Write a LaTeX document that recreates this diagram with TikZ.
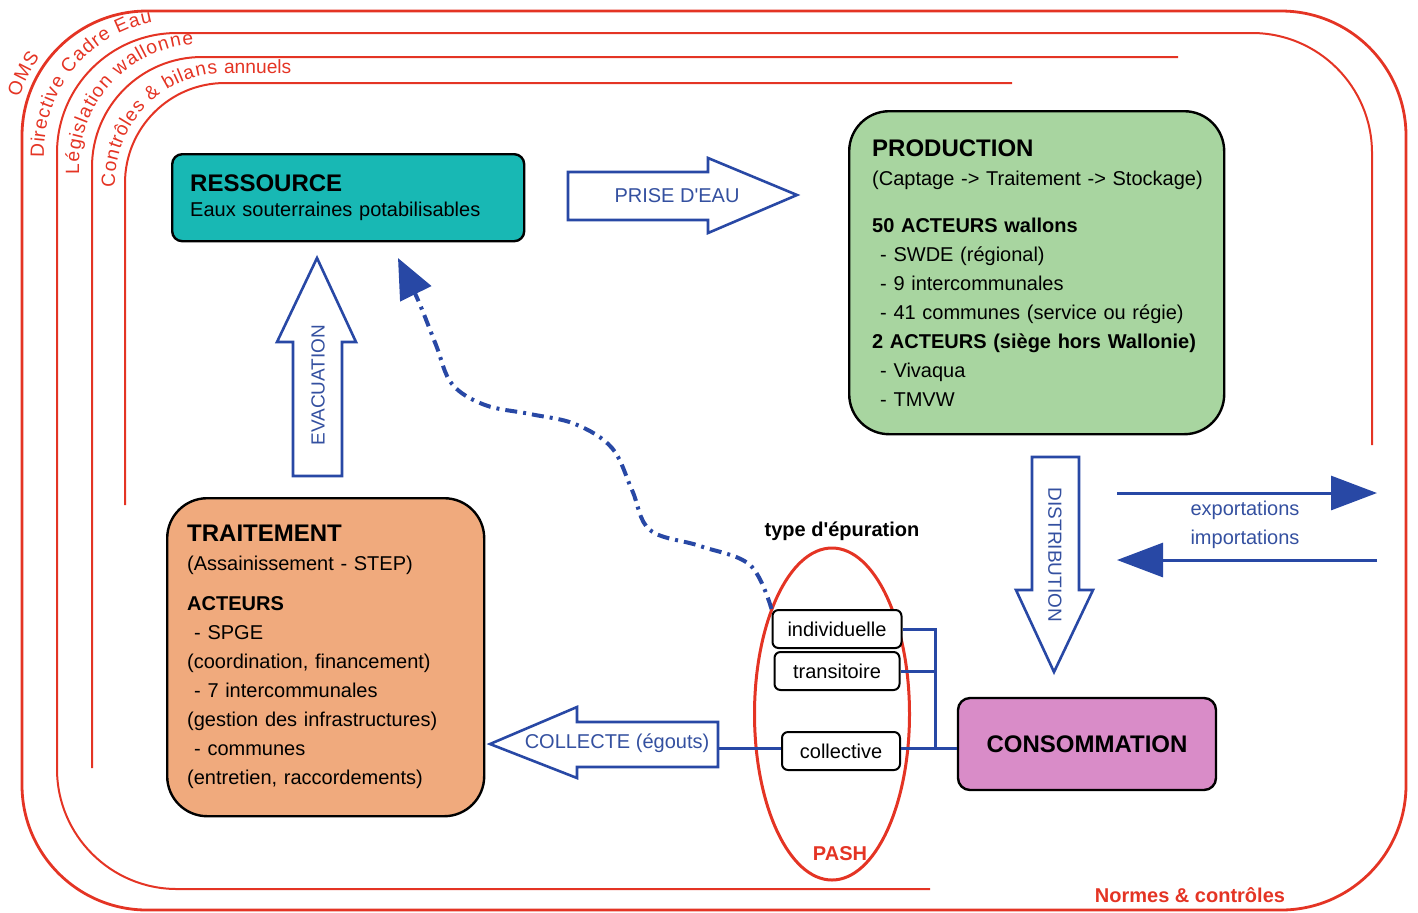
\documentclass[tikz,border=0pt]{standalone}
\usepackage{fontspec}
\setmainfont{Liberation Sans}[Ligatures=TeXOff]
\usetikzlibrary{arrows.meta,shapes.geometric,decorations.text}

\definecolor{framered}{RGB}{228,52,36}
\definecolor{flowblue}{RGB}{40,72,165}
\definecolor{labelblue}{RGB}{52,80,160}
\definecolor{ressfill}{RGB}{24,184,180}
\definecolor{prodfill}{RGB}{168,213,160}
\definecolor{traitfill}{RGB}{240,170,125}
\definecolor{consfill}{RGB}{217,140,200}

\newcommand\headfont{\fontsize{12pt}{14.5pt}\selectfont\bfseries}
\newcommand\arcfont{\fontsize{9.6pt}{12pt}\selectfont}

\begin{document}
\begin{tikzpicture}[x=0.5pt,y=-0.5pt]
	\tikzstyle{frame}=[framered,line width=1pt]
	\tikzstyle{curvetext}=[decorate,decoration={text along path,raise=5.5pt,text color=framered}]
	\tikzstyle{actor}=[draw=black,line width=1.2pt,anchor=north west,align=left]
	\tikzstyle{epbox}=[draw=black,fill=white,rounded corners=3pt,line width=1pt,minimum height=19pt,font=\fontsize{10pt}{12pt}\selectfont]
	\tikzstyle{blockarrow}=[draw=flowblue,fill=white,line width=1.3pt,line join=miter]
	\tikzstyle{arrowlabel}=[labelblue,font=\fontsize{10pt}{14.5pt}\selectfont]
	\tikzstyle{pipe}=[flowblue,line width=1.5pt]
	\tikzstyle{trade}=[flowblue,line width=1.5pt,-{Triangle[length=23pt,width=17pt]}]
	\useasboundingbox (0,0) rectangle (1418,912);

	% cadres reglementaires
	\draw[frame,line width=1.4pt,rounded corners=62.5pt] (22,11) rectangle (1406,910);
	\draw[frame,rounded corners=60pt] (930,889) -- (57,889) -- (57,33) -- (1372,33) -- (1372,445);
	\draw[frame,rounded corners=55pt] (92,768) -- (92,57) -- (1178,57);
	\draw[frame,rounded corners=50pt] (125,505) -- (125,83) -- (1012,83);

	\path[curvetext,rounded corners=62.5pt,decoration={raise=4pt,text={|\arcfont|OMS},text align={left indent=150pt}}] (22,400) -- (22,11) -- (1406,11);
	\path[curvetext,rounded corners=60pt,decoration={raise=6.5pt,text={|\arcfont|Directive Cadre Eau},text align={left indent=121pt}}] (57,400) -- (57,33) -- (1372,33);
	\path[curvetext,rounded corners=55pt,decoration={raise=6.5pt,text={|\arcfont|Législation wallonne},text align={left indent=113pt}}] (92,400) -- (92,57) -- (1178,57);
	\path[curvetext,rounded corners=50pt,decoration={raise=5pt,text={|\arcfont|Contrôles {\&} bilans annuels},text align={left indent=106pt}}] (125,400) -- (125,83) -- (1012,83);

	\node[framered,font=\fontsize{10pt}{12pt}\selectfont\bfseries] (normes) at (1190,895) {Normes \& contrôles};

	% acteurs
	\node[actor,fill=ressfill,rounded corners=5pt,inner xsep=9pt,text width=158pt,minimum width=176pt,minimum height=43.5pt,font=\fontsize{10pt}{12.5pt}\selectfont] (ress) at (171,153) {{\headfont RESSOURCE}\\
		Eaux souterraines potabilisables};

	\node[actor,fill=prodfill,rounded corners=20pt,inner xsep=11.5pt,text width=164.5pt,minimum width=187.5pt,minimum height=161.5pt,font=\fontsize{10pt}{14.5pt}\selectfont] (prod) at (848,110) {{\headfont PRODUCTION}\\
		\mbox{(Captage -> Traitement -> Stockage)}\\[9pt]
		{\bfseries 50 ACTEURS wallons}\\
		\hspace*{4pt}- SWDE (régional)\\
		\hspace*{4pt}- 9 intercommunales\\
		\hspace*{4pt}- 41 communes (service ou régie)\\
		\mbox{\bfseries 2 ACTEURS (siège hors Wallonie)}\\
		\hspace*{4pt}- Vivaqua\\
		\hspace*{4pt}- TMVW};

	\node[actor,fill=traitfill,rounded corners=20pt,inner xsep=10pt,text width=138.5pt,minimum width=158.5pt,minimum height=159pt,font=\fontsize{10pt}{14.5pt}\selectfont] (trait) at (166,497) {{\headfont TRAITEMENT}\\
		(Assainissement - STEP)\\[5.5pt]
		{\bfseries ACTEURS}\\
		\hspace*{3.5pt}- SPGE\\
		(coordination, financement)\\
		\hspace*{3.5pt}- 7 intercommunales\\
		(gestion des infrastructures)\\
		\hspace*{3.5pt}- communes\\
		(entretien, raccordements)};

	\node[draw=black,fill=consfill,rounded corners=6pt,line width=1.2pt,minimum width=129pt,minimum height=46pt,font=\headfont] (cons) at (1087,744) {CONSOMMATION};

	% flux
	\draw[blockarrow] (568,172) -- (708,172) -- (708,158) -- (797,195) -- (708,233) -- (708,220) -- (568,220) -- cycle;
	\node[arrowlabel] (prise) at (677,196) {PRISE D'EAU};
	\draw[blockarrow] (293,476) -- (293,342) -- (277,342) -- (317,258) -- (356,342) -- (342,342) -- (342,476) -- cycle;
	\node[arrowlabel,rotate=90,font=\fontsize{9.5pt}{12pt}\selectfont] (evac) at (318,385) {EVACUATION};
	\draw[blockarrow] (1032,457) -- (1079,457) -- (1079,590) -- (1093,590) -- (1054,672) -- (1016,590) -- (1032,590) -- cycle;
	\node[arrowlabel,rotate=-90,font=\fontsize{9.5pt}{12pt}\selectfont] (distr) at (1055,555) {DISTRIBUTION};
	\draw[blockarrow] (718,722) -- (577,722) -- (577,707) -- (490,744) -- (577,778) -- (577,767) -- (718,767) -- cycle;
	\node[arrowlabel] (collecte) at (617,743) {COLLECTE (égouts)};

	\coordinate (expL) at (1117,493);
	\coordinate (expR) at (1377,493);
	\coordinate (impR) at (1377,560);
	\coordinate (impL) at (1117,560);
	\draw[trade] (expL) -- (expR);
	\draw[trade] (impR) -- (impL);
	\node[arrowlabel,align=center] (echanges) at (1245,525) {exportations\\importations};

	% epuration
	\node[draw=framered,line width=1.5pt,ellipse,minimum width=77.5pt,minimum height=166pt] (pash) at (832,714) {};
	\node[framered,font=\fontsize{10pt}{12pt}\selectfont\bfseries] (pashlbl) at (840,854) {PASH};
	\node[font=\fontsize{10pt}{12pt}\selectfont\bfseries] (typep) at (842,531) {type d'épuration};
	\node[epbox,minimum width=64.5pt] (indiv) at (837,629) {individuelle};
	\node[epbox,minimum width=62.5pt] (trans) at (837,671) {transitoire};
	\node[epbox,minimum width=59pt] (coll) at (841,751) {collective};

	\coordinate (jn) at (935,748);
	\coordinate (colend) at (718,748);
	\draw[pipe] (indiv.east) -| (jn);
	\draw[pipe] (trans.east) -- (trans.east -| jn);
	\draw[pipe] (coll.east |- jn) -- (cons.west |- jn);
	\draw[pipe] (colend) -- (coll.west |- colend);

	\coordinate (retour) at (398,258);
	\draw[flowblue,line width=2pt,dash pattern=on 6pt off 3pt on 1.5pt off 3pt,-{Triangle[length=20pt,width=17pt]}] plot[smooth,tension=0.6] coordinates {(indiv.north west) (750,565) (700,546) (650,530) (632,490) (612,448) (575,424) (530,414) (485,405) (452,384) (436,345) (418,300) (retour)};
\end{tikzpicture}
\end{document}
